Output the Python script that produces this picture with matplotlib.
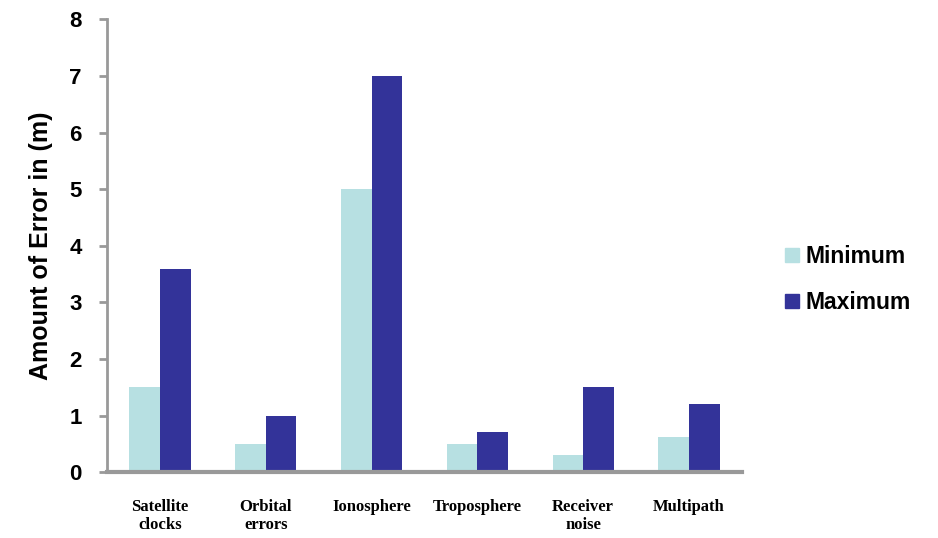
import numpy as np
import matplotlib.pyplot as plt
from matplotlib.patches import Patch

categories = ["Satellite\nclocks", "Orbital\nerrors", "Ionosphere",
              "Troposphere", "Receiver\nnoise", "Multipath"]
minimum = [1.5, 0.5, 5.0, 0.5, 0.3, 0.62]
maximum = [3.6, 1.0, 7.0, 0.72, 1.5, 1.2]
y_ticks = [0, 1, 2, 3, 4, 5, 6, 7, 8]

MIN_COLOR = "#b7e0e2"
MAX_COLOR = "#333399"
SPINE = "#999999"

fig = plt.figure(figsize=(9.38, 5.38), dpi=100)
ax = fig.add_axes([0.114, 0.122, 0.677, 0.842])

x = np.arange(len(categories))
w = 0.29
ax.bar(x - w / 2, minimum, width=w, color=MIN_COLOR)
ax.bar(x + w / 2, maximum, width=w, color=MAX_COLOR)

ax.set_xlim(-0.5, len(categories) - 0.5)
ax.set_ylim(0, 8)
ax.set_yticks(y_ticks)
ax.set_yticklabels([str(t) for t in y_ticks], fontfamily="Liberation Sans",
                   fontweight="bold", fontsize=16)
ax.set_xticks(x)
ax.set_xticklabels(categories, fontfamily="Liberation Serif",
                   fontweight="bold", fontsize=12, linespacing=1.2, va="top")
ax.tick_params(axis="x", length=0, pad=19)
ax.tick_params(axis="y", length=6, width=2, color=SPINE, pad=12)

for s in ["top", "right"]:
    ax.spines[s].set_visible(False)
ax.spines["left"].set_color(SPINE)
ax.spines["left"].set_linewidth(2)
ax.spines["bottom"].set_color(SPINE)
ax.spines["bottom"].set_linewidth(3)

ax.set_ylabel("Amount of Error in (m)", fontfamily="Liberation Sans",
              fontweight="bold", fontsize=18, labelpad=12)

handles = [Patch(color=MIN_COLOR), Patch(color=MAX_COLOR)]
fig.legend(handles, ["Minimum", "Maximum"], loc="center left",
           bbox_to_anchor=(0.815, 0.48), frameon=False,
           prop={"family": "Liberation Sans", "weight": "bold", "size": 16.5},
           handlelength=0.6, handleheight=0.6, handletextpad=0.3,
           labelspacing=1.0)

fig.savefig("out.png", dpi=100)
